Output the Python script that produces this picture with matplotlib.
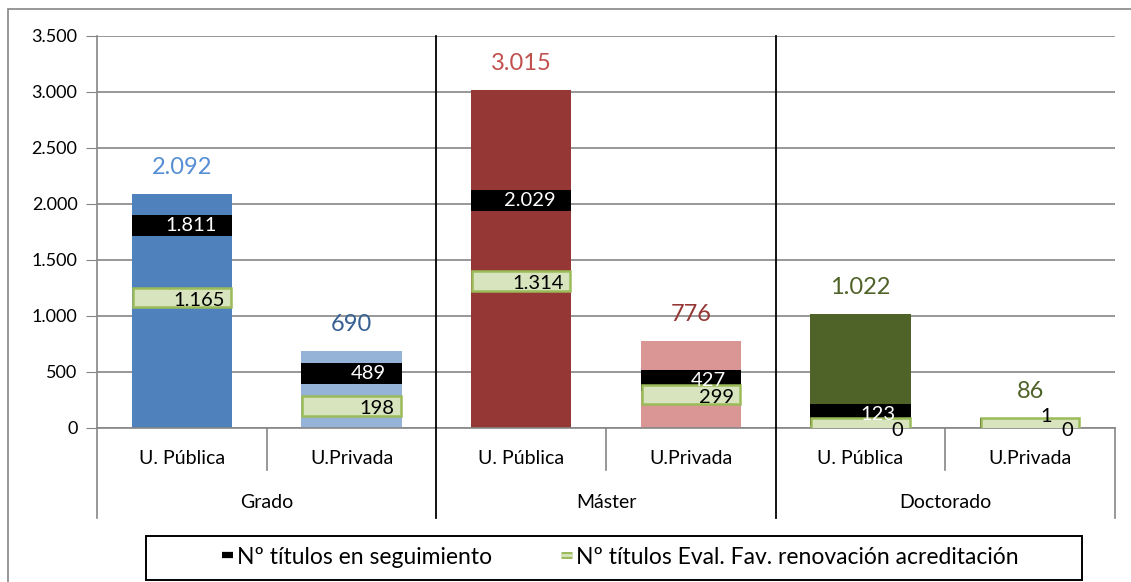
import numpy as np
import matplotlib.pyplot as plt
from matplotlib.patches import Rectangle
from matplotlib.lines import Line2D
from matplotlib.legend_handler import HandlerTuple

plt.rcParams['font.family'] = ['Lato', 'DejaVu Sans']

# datos
grupos = ['Grado', 'Máster', 'Doctorado']
universidades = ['U. Pública', 'U.Privada'] * 3
totales = [2092, 690, 3015, 776, 1022, 86]
seguimiento = [1811, 489, 2029, 427, 123, 1]
renovacion = [1165, 198, 1314, 299, 0, 0]

colores_barra = ['#4F81BD', '#95B3D7', '#953735', '#D99694', '#4F6228', '#C3D69B']
colores_total = ['#558ED5', '#376092', '#C0504D', '#953735', '#4F6228', '#4F6228']


def fmt(v):
    return f'{v:,}'.replace(',', '.')


fig = plt.figure(figsize=(11.31, 5.82), dpi=100)
W, H = 1131, 582
ax = fig.add_axes([97 / W, (H - 428) / H, (1115 - 97) / W, (428 - 36) / H])

x = np.arange(len(totales))
ancho = 0.59
ax.bar(x, totales, width=ancho, color=colores_barra, zorder=2)

# marcadores (bloques horizontales centrados en el valor)
alto = 185
seg = np.array(seguimiento)
ren = np.array(renovacion)
ax.bar(x, alto, bottom=seg - alto / 2, width=ancho, color='black', zorder=3)
ax.bar(x, alto * 0.95, bottom=ren - alto * 0.95 / 2, width=ancho - 0.01, color='#D7E4BD',
       edgecolor='#9BBB59', linewidth=1.8, zorder=4)

for i in range(len(x)):
    ax.annotate(fmt(totales[i]), (x[i], totales[i]), xytext=(0, 19), textcoords='offset points',
                ha='center', va='center', fontsize=17, color=colores_total[i], zorder=6)
    if seguimiento[i] > 50:
        ax.annotate(fmt(seguimiento[i]), (x[i], seguimiento[i]), xytext=(25, 0), textcoords='offset points',
                    ha='right', va='center', fontsize=14.5, color='white', zorder=6)
    else:
        ax.annotate(fmt(seguimiento[i]), (x[i], seguimiento[i]), xytext=(16, 8), textcoords='offset points',
                    ha='right', va='center', fontsize=14.5, color='black', zorder=6)
    ax.annotate(fmt(renovacion[i]), (x[i], renovacion[i]), xytext=(31, -2), textcoords='offset points',
                ha='right', va='center', fontsize=14.5, color='black', zorder=6)

ax.set_xlim(-0.5, 5.5)
ax.set_ylim(0, 3500)
ax.set_yticks(np.arange(0, 3501, 500))
ax.set_yticklabels([fmt(v) for v in range(0, 3501, 500)], fontsize=13)
ax.tick_params(axis='y', length=8, color='#868686', pad=6)
ax.set_xticks([])
ax.grid(axis='y', color='#868686', linewidth=1.2, zorder=0)
ax.set_axisbelow(True)
for s in ['top', 'right']:
    ax.spines[s].set_visible(False)
ax.spines['left'].set_color('#868686')
ax.spines['bottom'].set_color('#868686')
ax.spines['left'].set_linewidth(1.2)
ax.spines['bottom'].set_linewidth(1.2)

# eje de categorías por grupos
trans = ax.get_xaxis_transform()
px = 1 / 392
for i, u in enumerate(universidades):
    ax.text(x[i], -31 * px, u, transform=trans, ha='center', va='center', fontsize=14)
for g, nombre in enumerate(grupos):
    ax.text(2 * g + 0.5, -75 * px, nombre, transform=trans, ha='center', va='center', fontsize=14)
for xs in [0.5, 2.5, 4.5]:
    ax.add_line(Line2D([xs, xs], [0, -42 * px], transform=trans, color='#868686', lw=1.2, clip_on=False))
for xs in [-0.5, 5.5]:
    ax.add_line(Line2D([xs, xs], [0, -90 * px], transform=trans, color='#868686', lw=1.2, clip_on=False))
for xs in [1.5, 3.5]:
    ax.add_line(Line2D([xs, xs], [1, -90 * px], transform=trans, color='black', lw=1.3, clip_on=False, zorder=5))

# marco exterior y leyenda
fig.patches.append(Rectangle((8 / W, -0.1), 1.2, 1.1 - 9 / H, transform=fig.transFigure,
                             fill=False, edgecolor='#868686', lw=1.2))
fig.patches.append(Rectangle((146 / W, (H - 580) / H), (1082 - 146) / W, (580 - 536) / H,
                             transform=fig.transFigure, fill=False, edgecolor='black', lw=1.4))
h_seg = Line2D([], [], color='black', lw=4.5, solid_capstyle='butt')
h_ren = (Line2D([], [], color='#9BBB59', lw=5, solid_capstyle='butt'),
         Line2D([], [], color='#D7E4BD', lw=2, solid_capstyle='butt'))
fig.legend([h_seg, h_ren], ['Nº títulos en seguimiento', 'Nº títulos Eval. Fav. renovación acreditación'],
           handler_map={tuple: HandlerTuple(ndivide=1)},
           loc='center', bbox_to_anchor=(620 / W, (H - 557) / H), ncol=2, frameon=False,
           fontsize=16.5, handlelength=0.5, handletextpad=0.15, columnspacing=3.0)

fig.savefig('out.png', dpi=100)
